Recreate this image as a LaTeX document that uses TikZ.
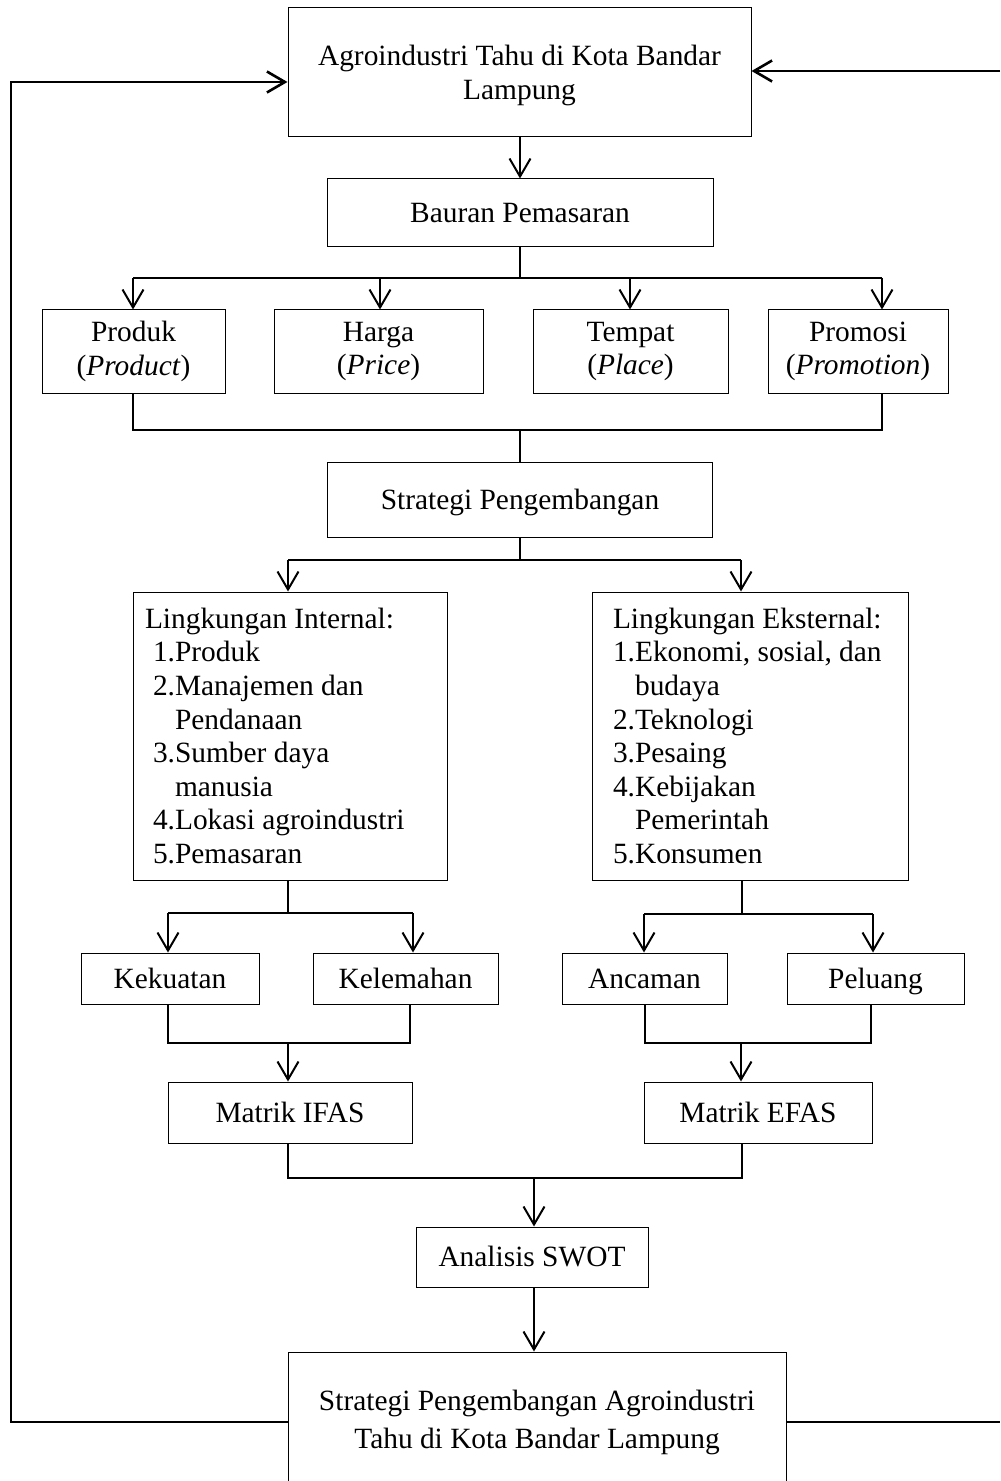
\documentclass[tikz,border=0pt]{standalone}
\usepackage{fontspec}
\setmainfont{Liberation Serif}
\usepackage{tikz}
\usetikzlibrary{arrows.meta, positioning}

\begin{document}
\begin{tikzpicture}[x=0.5pt, y=-0.5pt,
  box/.style={draw, line width=0.5pt, inner sep=0pt, align=center,
    font=\fontsize{14.7}{16.8}\selectfont},
  onebox/.style={box, text height=11pt, text depth=1.2pt},
  listbox/.style={box, align=flush left, text width=137pt},
  conn/.style={line width=1pt},
  arr/.style={conn, -{Straight Barb[length=9pt, width=10.5pt]}},
  loop/.style={line width=1.3pt}]
  \clip (0,0) rectangle (1000,1481);
  \node[box, minimum width=231.5pt, minimum height=64.5pt, text depth=-2pt] (top) at (519.5,72.5) {Agroindustri Tahu di Kota Bandar\\Lampung};
  \node[onebox, minimum width=193pt, minimum height=34pt] (bauran) at (520,213) {Bauran Pemasaran};
  \node[box, minimum width=91.5pt, minimum height=41.5pt] (produk) at (133.5,351.5) {Produk\\(\textit{Product})};
  \node[box, minimum width=104.5pt, minimum height=41.5pt] (harga) at (378.5,351.5) {Harga\\(\textit{Price})};
  \node[box, minimum width=97.5pt, minimum height=41.5pt] (tempat) at (630.5,351.5) {Tempat\\(\textit{Place})};
  \node[box, minimum width=90pt, minimum height=41.5pt] (promosi) at (858,351.5) {Promosi\\(\textit{Promotion})};
  \node[onebox, minimum width=192.5pt, minimum height=37.5pt] (strategi) at (520,499.5) {Strategi Pengembangan};
  \node[listbox, minimum width=157pt, minimum height=144pt] (intern) at (290,736) {\hspace*{-4pt}Lingkungan Internal:\\
    1.Produk\\
    2.Manajemen dan\\
    \phantom{2.}Pendanaan\\
    3.Sumber daya\\
    \phantom{3.}manusia\\
    4.Lokasi agroindustri\\
    5.Pemasaran};
  \node[listbox, minimum width=158pt, minimum height=144pt] (ekstern) at (750,736) {Lingkungan Eksternal:\\
    1.Ekonomi, sosial, dan\\
    \phantom{1.}budaya\\
    2.Teknologi\\
    3.Pesaing\\
    4.Kebijakan\\
    \phantom{4.}Pemerintah\\
    5.Konsumen};
  \node[onebox, minimum width=89pt, minimum height=25.5pt] (kuat) at (170,978.5) {Kekuatan};
  \node[onebox, minimum width=92.5pt, minimum height=25.5pt] (lemah) at (405.5,978.5) {Kelemahan};
  \node[onebox, minimum width=82.5pt, minimum height=25.5pt] (ancam) at (644.5,978.5) {Ancaman};
  \node[onebox, minimum width=88.5pt, minimum height=25.5pt] (peluang) at (875.5,978.5) {Peluang};
  \node[onebox, minimum width=122pt, minimum height=30.5pt] (ifas) at (290,1112.5) {Matrik IFAS};
  \node[onebox, minimum width=114pt, minimum height=30.5pt] (efas) at (758,1112.5) {Matrik EFAS};
  \node[onebox, minimum width=116pt, minimum height=30pt] (swot) at (532,1257) {Analisis SWOT};
  \node[box, minimum width=249pt, minimum height=70pt,
    font=\fontsize{14.7}{19}\selectfont] (hasil) at (537,1422) {Strategi Pengembangan Agroindustri\\Tahu di Kota Bandar Lampung};

  \coordinate (bA) at (133,278);
  \coordinate (bB) at (380,278);
  \coordinate (bC) at (630,278);
  \coordinate (bD) at (882,278);
  \draw[arr] (bauran.north |- top.south) -- (bauran.north);
  \draw[conn] (bauran.south) -- (bauran.south |- bA);
  \draw[conn] (bA) -- (bD);
  \foreach \c/\n in {bA/produk, bB/harga, bC/tempat, bD/promosi}
    \draw[arr] (\c) -- (\c |- \n.north);

  \coordinate (cA) at (133,430);
  \coordinate (cD) at (882,430);
  \draw[conn] (cA |- produk.south) -- (cA) -- (cD) -- (cD |- promosi.south);
  \draw[conn] (strategi.north) -- (strategi.north |- cA);

  \coordinate (sA) at (288,560);
  \coordinate (sB) at (741,560);
  \draw[conn] (strategi.south) -- (strategi.south |- sA);
  \draw[conn] (sA) -- (sB);
  \draw[arr] (sA) -- (sA |- intern.north);
  \draw[arr] (sB) -- (sB |- ekstern.north);

  \coordinate (iS) at (288,913);
  \coordinate (iA) at (168,913);
  \coordinate (iB) at (413,913);
  \draw[conn] (iS |- intern.south) -- (iS);
  \draw[conn] (iA) -- (iB);
  \draw[arr] (iA) -- (iA |- kuat.north);
  \draw[arr] (iB) -- (iB |- lemah.north);

  \coordinate (eS) at (742,914);
  \coordinate (eA) at (644,914);
  \coordinate (eB) at (873,914);
  \draw[conn] (eS |- ekstern.south) -- (eS);
  \draw[conn] (eA) -- (eB);
  \draw[arr] (eA) -- (eA |- ancam.north);
  \draw[arr] (eB) -- (eB |- peluang.north);

  \coordinate (jA) at (168,1043);
  \coordinate (jB) at (410,1043);
  \coordinate (jM) at (288,1043);
  \draw[conn] (jA |- kuat.south) -- (jA) -- (jB) -- (jB |- lemah.south);
  \draw[arr] (jM) -- (jM |- ifas.north);

  \coordinate (kA) at (645,1043);
  \coordinate (kB) at (871,1043);
  \coordinate (kM) at (741,1043);
  \draw[conn] (kA |- ancam.south) -- (kA) -- (kB) -- (kB |- peluang.south);
  \draw[arr] (kM) -- (kM |- efas.north);

  \coordinate (fA) at (288,1178);
  \coordinate (fB) at (742,1178);
  \coordinate (fM) at (534,1178);
  \draw[conn] (fA |- ifas.south) -- (fA) -- (fB) -- (fB |- efas.south);
  \draw[arr] (fM) -- (fM |- swot.north);
  \draw[arr] (fM |- swot.south) -- (fM |- hasil.north);

  \coordinate (lB) at (11,1422);
  \coordinate (lT) at (11,82);
  \coordinate (rT) at (1000,71);
  \coordinate (rB) at (1000,1422);
  \draw[loop, -{Straight Barb[length=9pt, width=10.5pt]}] (hasil.west) -- (lB) -- (lT) -- (lT -| top.west);
  \draw[loop, -{Straight Barb[length=9pt, width=10.5pt]}] (rT) -- (rT -| top.east);
  \draw[loop] (hasil.east) -- (rB);
\end{tikzpicture}
\end{document}
